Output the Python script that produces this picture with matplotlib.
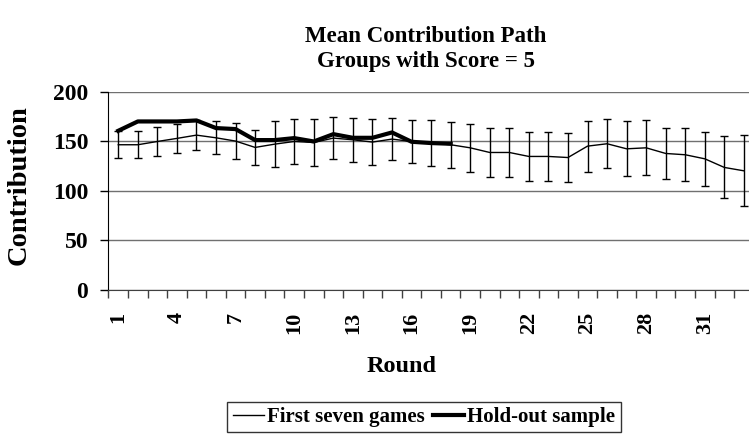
import matplotlib
matplotlib.use("Agg")
import matplotlib.pyplot as plt
from matplotlib.lines import Line2D
import numpy as np

rounds = list(range(1, 34))
first_seven = [146.5, 146.5, 149.8, 152.9, 156.2, 153.5, 150.2, 143.8, 147.1, 149.8,
               148.8, 153.2, 151.5, 149.2, 152.2, 149.8, 148.2, 146.5, 143.4, 138.7,
               138.7, 134.7, 134.7, 133.6, 145.1, 147.5, 142.4, 143.4, 137.7, 136.4,
               132.3, 123.6, 120.2]
first_seven_err = [13.5, 13.5, 14.5, 15.0, 15.5, 16.7, 18.0, 18.0, 23.5, 23.0,
                   24.0, 21.0, 22.0, 23.0, 21.5, 22.0, 23.0, 23.0, 24.0, 24.5,
                   24.5, 25.0, 24.6, 24.8, 25.7, 24.5, 27.7, 27.7, 25.8, 26.5,
                   27.3, 31.3, 35.8]
holdout_rounds = list(range(1, 19))
holdout = [160.6, 170.0, 170.0, 170.0, 171.0, 163.3, 162.3, 151.2, 151.2, 153.2,
           149.8, 157.2, 153.5, 153.5, 158.9, 149.5, 148.2, 147.5]
tick_labels = [str(r) for r in range(1, 34, 3)]

plt.rcParams['font.family'] = ['Liberation Serif', 'DejaVu Serif']
plt.rcParams['font.weight'] = 'bold'

W, H = 749, 445
fig = plt.figure(figsize=(W/100, H/100), dpi=100)
ax = fig.add_axes([108.5/W, 1-290/H, 645.2/W, (290-91.7)/H])

ax.errorbar(rounds, first_seven, yerr=first_seven_err, color='black', lw=1.0,
            elinewidth=1.0, capsize=3.2, capthick=1.0, zorder=3)
ax.plot(holdout_rounds, holdout, color='black', lw=3.0, zorder=4)

ax.set_xlim(0.5, 33.5)
ax.set_ylim(0, 200)
ax.set_yticks([0, 50, 100, 150, 200])
ax.yaxis.grid(True, color='#707070', lw=1.0)
ax.set_axisbelow(True)

ax.set_xticks(list(range(1, 34, 3)))
ax.set_xticklabels(tick_labels, rotation=90, fontsize=16, fontweight='bold')
ax.set_xticks(np.arange(0.5, 34, 1), minor=True)
ax.tick_params(axis='x', which='major', length=0, pad=16)
ax.tick_params(axis='x', which='minor', length=5.5, width=1, direction='out', color='#404040')
ax.tick_params(axis='y', length=5.5, width=1, direction='out', labelsize=17, pad=9)
for lab in ax.get_yticklabels():
    lab.set_fontweight('bold')

for s in ['top', 'right']:
    ax.spines[s].set_visible(False)
ax.spines['left'].set_color('black')
ax.spines['bottom'].set_color('#404040')

fig.text(402/W, 1-367/H, 'Round', ha='center', va='center', fontsize=17.5, fontweight='bold')
fig.text(19/W, 1-185.5/H, 'Contribution', ha='center', va='center', rotation=90,
         fontsize=20.5, fontweight='bold')
fig.text(425.5/W, 1-49/H, 'Mean Contribution Path\nGroups with Score = 5',
         ha='center', va='center', fontsize=16.5, fontweight='bold', linespacing=1.3)

handles = [Line2D([], [], color='black', lw=1.0), Line2D([], [], color='black', lw=3.0)]
labels = ['First seven games', 'Hold-out sample']
leg = fig.legend(handles, labels, loc='center', bbox_to_anchor=(424/W, 1-417/H), ncol=2,
                 frameon=True, fancybox=False, shadow=False,
                 handlelength=1.5, columnspacing=0.4, handletextpad=0.15,
                 borderpad=0.25, borderaxespad=0, prop={'weight': 'bold', 'size': 15})
leg.get_frame().set_edgecolor('black')
leg.get_frame().set_linewidth(1.0)

fig.savefig('out.png', dpi=100)
